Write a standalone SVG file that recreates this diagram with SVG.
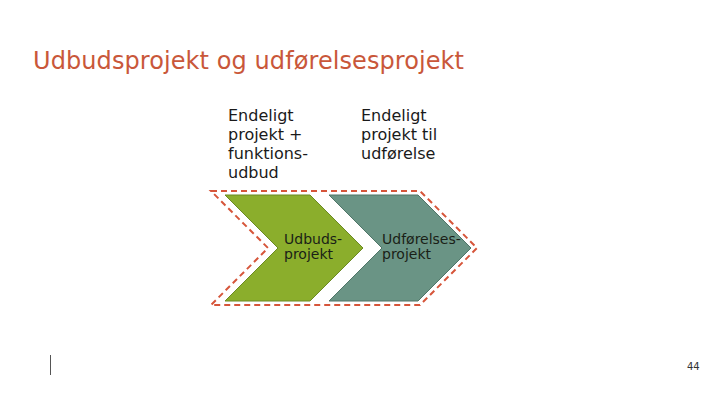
<svg xmlns="http://www.w3.org/2000/svg" width="720" height="405" viewBox="0 0 720 405">
  <style>
    .title { font-family: "DejaVu Sans", sans-serif; font-size: 24px; fill: #c9573a; }
    .body { font-family: "DejaVu Sans", sans-serif; font-size: 16px; fill: #1a1a1a; }
    .lbl { font-family: "DejaVu Sans", sans-serif; font-size: 14px; fill: #1a1f17; }
    .num { font-family: "DejaVu Sans", sans-serif; font-size: 10px; fill: #333333; }
  </style>
  <rect width="720" height="405" fill="#ffffff"/>
  <text class="title" x="33" y="69" textLength="431" lengthAdjust="spacing">Udbudsprojekt og udførelsesprojekt</text>
  <g id="text-udbud">
    <text class="body" x="228" y="121">Endeligt</text>
    <text class="body" x="228" y="140">projekt +</text>
    <text class="body" x="228" y="159">funktions-</text>
    <text class="body" x="228" y="178">udbud</text>
  </g>
  <g id="text-udfoerelse">
    <text class="body" x="361" y="121">Endeligt</text>
    <text class="body" x="361" y="140">projekt til</text>
    <text class="body" x="361" y="159">udførelse</text>
  </g>
  <g id="boundary">
    <polygon points="211,191 420,191 477,248 420,305 211,305 268,248" fill="none" stroke="#d6553a" stroke-width="2" stroke-dasharray="6 4"/>
  </g>
  <g id="udbudsprojekt">
    <polygon points="225,195 310,195 363,248 310,301 225,301 278,248" fill="#8bae2c" stroke="#6b8a22" stroke-width="1"/>
    <text class="lbl" x="284" y="244">Udbuds-</text>
    <text class="lbl" x="284" y="259">projekt</text>
  </g>
  <g id="udfoerelsesprojekt">
    <polygon points="329,195 418,195 471,248 418,301 329,301 382,248" fill="#6a9485" stroke="#4e7567" stroke-width="1"/>
    <text class="lbl" x="382" y="244">Udførelses-</text>
    <text class="lbl" x="382" y="259">projekt</text>
  </g>
  <line x1="50.5" y1="355" x2="50.5" y2="375" stroke="#555555" stroke-width="1"/>
  <text class="num" x="687" y="370">44</text>
</svg>
